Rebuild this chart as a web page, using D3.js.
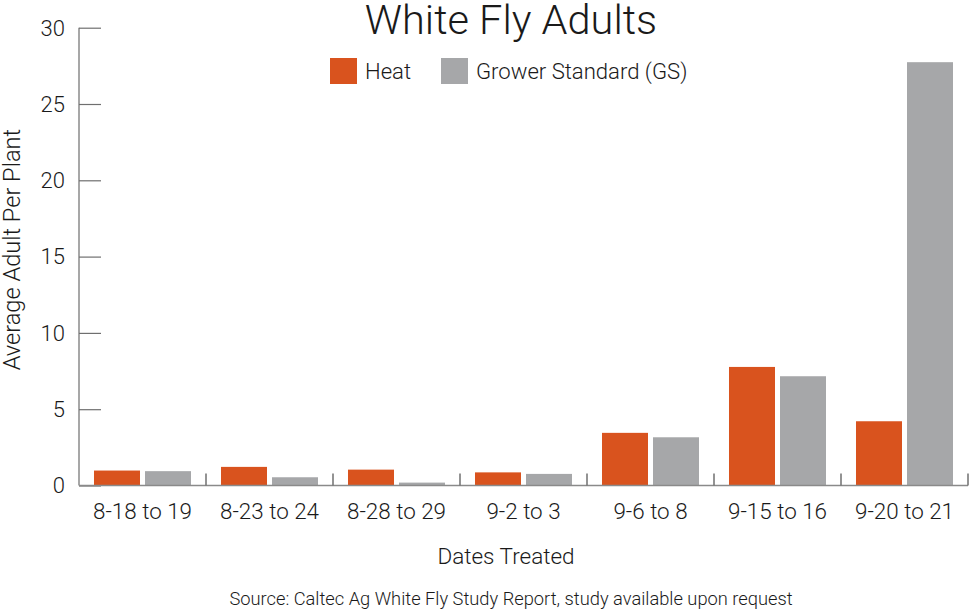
<!DOCTYPE html>
<html>
<head>
<meta charset="utf-8">
<script src="https://cdn.jsdelivr.net/npm/d3@7/dist/d3.min.js"></script>
<style>
  html, body { margin: 0; padding: 0; background: #fff; }
  svg { display: block; }
  text { font-family: Roboto, "Noto Sans", sans-serif; fill: #1a1a1a; }
</style>
</head>
<body>
<svg id="chart" width="969" height="609"></svg>
<script>
const categories = ["8-18 to 19", "8-23 to 24", "8-28 to 29", "9-2 to 3", "9-6 to 8", "9-15 to 16", "9-20 to 21"];
const seriesNames = ["Heat", "Grower Standard (GS)"];
const heatValues = [0.98, 1.22, 1.04, 0.86, 3.45, 7.77, 4.21];
const gsValues = [0.94, 0.54, 0.19, 0.76, 3.16, 7.16, 27.74];
const yTicks = [0, 5, 10, 15, 20, 25, 30];
const colors = ["#D9531E", "#A6A7A9"];

const svg = d3.select("#chart");
const mLeft = 79, mRight = 968, mTop = 27.7, mBottom = 485.5;

const x0 = d3.scaleBand().domain(categories).range([mLeft, mRight]).paddingInner(0).paddingOuter(0);
const x1 = d3.scaleBand().domain(seriesNames).range([0, x0.bandwidth()]).paddingInner(0.098).paddingOuter(0.294);
const y = d3.scaleLinear().domain([0, 30]).range([mBottom, mTop]);

const data = categories.map((c, i) => ({ cat: c, vals: [heatValues[i], gsValues[i]] }));

// bars
const g = svg.append("g");
g.selectAll("g.grp").data(data).join("g")
  .attr("transform", d => `translate(${x0(d.cat)},0)`)
  .selectAll("rect").data(d => d.vals.map((v, j) => ({ name: seriesNames[j], v, j })))
  .join("rect")
  .attr("x", d => x1(d.name))
  .attr("width", x1.bandwidth())
  .attr("y", d => y(d.v))
  .attr("height", d => y(0) - y(d.v))
  .attr("fill", d => colors[d.j]);

// y axis (ticks inward)
const yAxis = d3.axisRight(y).tickValues(yTicks).tickSize(22).tickFormat("");
const yg = svg.append("g").attr("transform", `translate(${mLeft},0)`).call(yAxis);
yg.select(".domain").attr("stroke", "#8a8a8a").attr("stroke-width", 1.5).attr("d", `M0,${mTop}V${mBottom}`);
yg.selectAll(".tick line").attr("stroke", "#6f6f6f").attr("stroke-width", 1.2);

svg.append("g").selectAll("text").data(yTicks).join("text")
  .attr("x", 65).attr("y", d => y(d) + 7.8)
  .attr("text-anchor", "end")
  .style("font-size", "22px").style("font-weight", 300)
  .text(d => d);

// x axis
const xg = svg.append("g").attr("transform", `translate(0,${mBottom})`)
  .call(d3.axisBottom(x0).tickSize(0).tickFormat(""));
xg.select(".domain").attr("stroke", "#8a8a8a").attr("stroke-width", 1.5).attr("d", `M${mLeft},0H${mRight}`);
xg.selectAll(".tick").remove();

// category separators
const seps = categories.map(c => x0(c) + x0.bandwidth());
svg.append("g").selectAll("line").data(seps).join("line")
  .attr("x1", d => d).attr("x2", d => d)
  .attr("y1", mBottom).attr("y2", mBottom - 12)
  .attr("stroke", "#6f6f6f").attr("stroke-width", 1.5);

svg.append("g").selectAll("text").data(categories).join("text")
  .attr("x", d => x0(d) + x0.bandwidth() / 2)
  .attr("y", 519)
  .attr("text-anchor", "middle")
  .style("font-size", "22.4px").style("font-weight", 300)
  .text(d => d);

// title
svg.append("text").attr("x", 511).attr("y", 34).attr("text-anchor", "middle")
  .style("font-size", "41.5px").style("font-weight", 300).text("White Fly Adults");

// legend
const legendX = [330, 441];
const leg = svg.append("g").selectAll("g").data(seriesNames).join("g")
  .attr("transform", (d, i) => `translate(${legendX[i]},58)`);
leg.append("rect").attr("width", 27).attr("height", 26).attr("fill", (d, i) => colors[i]);
leg.append("text").attr("x", 35).attr("y", 21)
  .style("font-size", "22.1px").style("font-weight", 300).text(d => d);

// axis titles
svg.append("text")
  .attr("transform", `translate(12,${(mTop + mBottom) / 2 - 7}) rotate(-90)`)
  .attr("text-anchor", "middle").attr("dy", "0.35em")
  .style("font-size", "23.6px").style("font-weight", 300)
  .text("Average Adult Per Plant");

svg.append("text").attr("x", 506).attr("y", 564).attr("text-anchor", "middle")
  .style("font-size", "22.5px").style("font-weight", 300).text("Dates Treated");

svg.append("text").attr("x", 511).attr("y", 605).attr("text-anchor", "middle")
  .style("font-size", "18.3px").style("font-weight", 300)
  .text("Source: Caltec Ag White Fly Study Report, study available upon request");
</script>
</body>
</html>
